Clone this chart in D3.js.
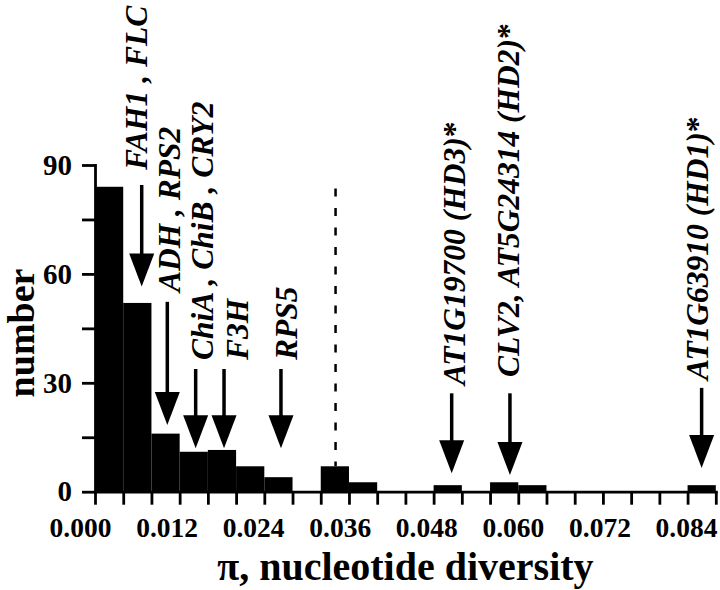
<!DOCTYPE html>
<html>
<head>
<meta charset="utf-8">
<script src="https://cdn.jsdelivr.net/npm/d3@7"></script>
<style>
body { margin: 0; background: #fff; }
svg text { font-family: "Liberation Serif", "Times New Roman", serif; font-weight: bold; fill: #000; }
</style>
</head>
<body>
<div id="vis"></div>
<script>
// histogram bins (lower edge of each 0.004 wide bin) and counts
var binStarts = [0.000, 0.004, 0.008, 0.012, 0.016, 0.020, 0.024, 0.028, 0.032, 0.036, 0.040,
                 0.044, 0.048, 0.052, 0.056, 0.060, 0.064, 0.068, 0.072, 0.076, 0.080, 0.084]
var counts    = [84, 52, 16, 11, 11.5, 7, 4, 0, 7, 2.6, 0,
                 0, 1.8, 0, 2.6, 1.8, 0, 0, 0, 0, 0, 1.8]
var binWidth = 0.004

var yTicks = [0, 15, 30, 45, 60, 75, 90]
var yTickLabels = ["0", "", "30", "", "60", "", "90"]
var xTickLabels = ["0.000", "0.012", "0.024", "0.036", "0.048", "0.060", "0.072", "0.084"]

// gene annotations: arrow at pi value, from / to in "number" units
var genes      = ["FAH1 , FLC", "ADH , RPS2", "ChiA , ChiB , CRY2", "F3H", "RPS5",
                  "AT1G19700 (HD3)", "CLV2, AT5G24314 (HD2)", "AT1G63910 (HD1)"]
var starred    = [false, false, false, false, false, true, true, true]
var arrowPi    = [0.00662, 0.01025, 0.01427, 0.01829, 0.02636, 0.05056, 0.05882, 0.08599]
var arrowFrom  = [84.5, 52.3, 33.8, 33.8, 33.8, 27.1, 27.1, 28.6]
var arrowTo    = [56.5, 18.4, 12.0, 12.0, 12.0, 5.1, 4.6, 6.5]
var labelPi    = [0.00737, 0.01205, 0.01673, 0.02169, 0.02863, 0.05244, 0.06010, 0.08689]
var labelFloor = [88.6, 55.0, 36.3, 36.3, 36.3, 29.4, 31.6, 30.8]

var cutoff = 0.0341
var cutoffTop = 83.5

var width = 720, height = 590

var svg = d3.select("#vis").append("svg")
    .attr("width", width).attr("height", height)

var x = d3.scaleLinear().domain([0, 0.088]).range([95, 715.8])
var y = d3.scaleLinear().domain([0, 90]).range([491.7, 165])
// tick labels in the original sit a bit left of their ticks, drifting less to the right
var xLab = d3.scaleLinear().domain([0, 0.084]).range([80, 686])

//bars
svg.append("g").selectAll("rect")
    .data(binStarts)
    .enter().append("rect")
    .attr("x", function(d){ return x(d) })
    .attr("width", function(d){ return x(d + binWidth) - x(d) })
    .attr("y", function(d, i){ return y(counts[i]) })
    .attr("height", function(d, i){ return y(0) - y(counts[i]) })
    .attr("fill", "#000")

//dashed cutoff
svg.append("line")
    .attr("x1", x(cutoff)).attr("x2", x(cutoff))
    .attr("y1", y(cutoffTop)).attr("y2", y(counts[8]))
    .attr("stroke", "#000").attr("stroke-width", 2.5)
    .attr("stroke-dasharray", "8,11.5")

//axes
var xTicks = d3.range(0, 0.0881, 0.004)
var xAxis = d3.axisBottom(x).tickValues(xTicks).tickSize(13).tickSizeOuter(0)
    .tickFormat(function(d, i){ return i % 3 == 0 ? xTickLabels[i / 3] : "" })
var gx = svg.append("g").attr("transform", "translate(0," + y(0) + ")").call(xAxis)
gx.selectAll("text")
    .attr("y", 45).attr("dy", null)
    .attr("x", function(d){ return xLab(d) - x(d) })
    .style("font-size", "27.5px")

var yAxis = d3.axisLeft(y).tickValues(yTicks).tickSize(13).tickSizeOuter(0).tickPadding(10)
    .tickFormat(function(d, i){ return yTickLabels[i] })
var gy = svg.append("g").attr("transform", "translate(" + x(0) + ",0)").call(yAxis)
gy.selectAll("text").style("font-size", "29px")

svg.selectAll(".domain, .tick line")
    .attr("stroke", "#000").attr("stroke-width", 2.8)
svg.selectAll(".domain").attr("stroke-linecap", "square")

//arrows
var arrows = svg.append("g")
genes.forEach(function(g, i){
    var ax = x(arrowPi[i]), tip = y(arrowTo[i])
    arrows.append("line")
        .attr("x1", ax).attr("x2", ax)
        .attr("y1", y(arrowFrom[i])).attr("y2", tip - 30)
        .attr("stroke", "#000").attr("stroke-width", 3.5)
    arrows.append("path")
        .attr("d", "M" + (ax - 12.5) + "," + (tip - 33) + "L" + (ax + 12.5) + "," + (tip - 33) + "L" + ax + "," + tip + "Z")
        .attr("fill", "#000")

    var t = arrows.append("text")
        .attr("transform", "translate(" + x(labelPi[i]) + "," + y(labelFloor[i]) + ") rotate(-90)")
        .attr("text-anchor", "start")
        .style("font-size", "31.5px")
        .style("font-style", "italic")
    t.append("tspan").text(g)
    if (starred[i]) {
        t.append("tspan").text("*").style("font-style", "normal")
    }
})

//titles
svg.append("text")
    .attr("x", (x(0) + x(0.088)) / 2).attr("y", 580)
    .attr("text-anchor", "middle")
    .style("font-size", "40px")
    .text("\u03c0, nucleotide diversity")

svg.append("text")
    .attr("transform", "translate(34,333) rotate(-90)")
    .attr("text-anchor", "middle")
    .style("font-size", "38px")
    .text("number")
</script>
</body>
</html>
